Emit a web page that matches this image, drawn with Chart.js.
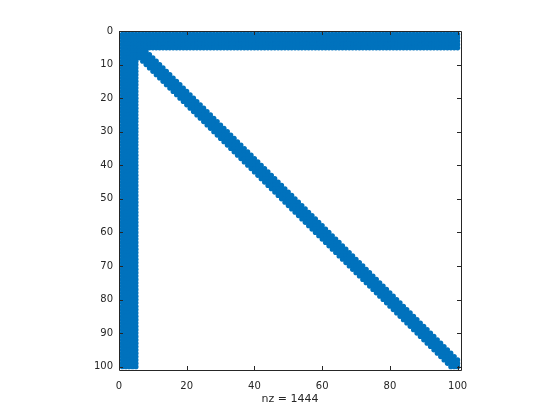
<!DOCTYPE html>
<html>
<head>
<meta charset="utf-8">
<script src="https://cdn.jsdelivr.net/npm/chart.js@4.4.1/dist/chart.umd.min.js"></script>
<style>
html,body{margin:0;padding:0;background:#fff;}
canvas{display:block;}
</style>
</head>
<body>
<canvas id="c" width="560" height="420"></canvas>
<script>
// Sparsity pattern of a 100x100 matrix (nz = 1444)
const matrixSize = 100;
const denseRows = [1, 2, 3, 4, 5];          // rows filled across all columns
const denseCols = [1, 2, 3, 4, 5];          // columns filled down all rows
const bandOffsets = [-2, -1, 0, 1, 2];      // diagonal band j - i
const xTicks = [0, 20, 40, 60, 80, 100];
const yTicks = [0, 10, 20, 30, 40, 50, 60, 70, 80, 90, 100];
const axisMin = 0, axisMax = 101;
const nzLabel = 'nz = 1444';

// build nonzero list
const nzSet = new Set();
const pts = [];
function add(i, j) {
  if (i < 1 || j < 1 || i > matrixSize || j > matrixSize) return;
  const k = i + ',' + j;
  if (nzSet.has(k)) return;
  nzSet.add(k);
  pts.push({x: j, y: i});
}
for (const r of denseRows) for (let j = 1; j <= matrixSize; j++) add(r, j);
for (const c of denseCols) for (let i = 1; i <= matrixSize; i++) add(i, c);
for (let i = 1; i <= matrixSize; i++) for (const d of bandOffsets) add(i, i + d);

const axColor = '#262626';
const fontFam = 'DejaVu Sans, sans-serif';
const boxPlugin = {
  id: 'box',
  afterDatasetsDraw(chart) {
    const {ctx, chartArea: a, scales} = chart;
    ctx.save();
    ctx.strokeStyle = axColor;
    ctx.lineWidth = 1;
    ctx.beginPath();
    ctx.rect(Math.round(a.left) + 0.5, Math.round(a.top) + 0.5,
             Math.round(a.right - a.left), Math.round(a.bottom - a.top));
    const tl = 4;
    for (const v of xTicks) {
      const x = Math.round(scales.x.getPixelForValue(v)) + 0.5;
      ctx.moveTo(x, a.bottom); ctx.lineTo(x, a.bottom - tl);
      ctx.moveTo(x, a.top); ctx.lineTo(x, a.top + tl);
    }
    for (const v of yTicks) {
      const y = Math.round(scales.y.getPixelForValue(v)) + 0.5;
      ctx.moveTo(a.left, y); ctx.lineTo(a.left + tl, y);
      ctx.moveTo(a.right, y); ctx.lineTo(a.right - tl, y);
    }
    ctx.stroke();
    ctx.restore();
  }
};

new Chart(document.getElementById('c'), {
  type: 'scatter',
  data: {
    datasets: [{
      data: pts,
      backgroundColor: '#0072BD',
      borderColor: '#0072BD',
      borderWidth: 0,
      pointRadius: 2.6,
      pointHoverRadius: 2.6
    }]
  },
  options: {
    responsive: false,
    animation: false,
    events: [],
    layout: {padding: {left: 0, right: 99, top: 31, bottom: 0}},
    plugins: {legend: {display: false}, tooltip: {enabled: false}},
    scales: {
      x: {
        type: 'linear', min: axisMin, max: axisMax,
        afterBuildTicks(s) { s.ticks = xTicks.map(v => ({value: v})); },
        afterFit(s) { s.height = 50; },
        grid: {display: false, drawTicks: false},
        border: {display: false},
        ticks: {color: axColor, padding: 10, maxRotation: 0,
                font: {family: fontFam, size: 10}},
        title: {display: true, text: nzLabel, color: axColor, padding: {top: 2, bottom: 14},
                font: {family: fontFam, size: 11}}
      },
      y: {
        type: 'linear', min: axisMin, max: axisMax, reverse: true,
        afterBuildTicks(s) { s.ticks = yTicks.map(v => ({value: v})); },
        afterFit(s) { s.width = 119; },
        grid: {display: false, drawTicks: false},
        border: {display: false},
        ticks: {color: axColor, padding: 6,
                font: {family: fontFam, size: 10}}
      }
    }
  },
  plugins: [boxPlugin]
});
</script>
</body>
</html>
